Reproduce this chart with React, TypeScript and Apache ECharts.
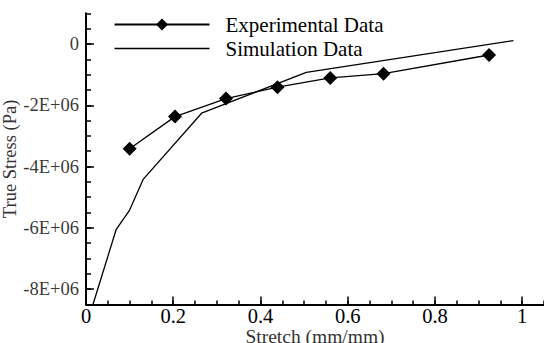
import React, { useEffect, useRef } from "react";
import * as echarts from "echarts";

const expStretch = [0.1, 0.204, 0.321, 0.439, 0.56, 0.682, 0.924];
const expStress = [-3.42e6, -2.37e6, -1.78e6, -1.41e6, -1.11e6, -0.97e6, -0.36e6];
const simStretch = [0.016, 0.069, 0.1, 0.131, 0.265, 0.505, 0.98];
const simStress = [-8.5e6, -6.06e6, -5.42e6, -4.42e6, -2.26e6, -0.93e6, 0.11e6];
const xTickValues = [0, 0.2, 0.4, 0.6, 0.8, 1];
const yTickValues = [0, -2e6, -4e6, -6e6, -8e6];
const seriesNames = ["Experimental Data", "Simulation Data"];

const FONT = "Times New Roman";

function isMajor(v: number, list: number[]) {
  return list.some((t) => Math.abs(t - v) < 1e-6 * Math.max(1, Math.abs(t)));
}

function yText(v: number) {
  if (Math.abs(v) < 1) return "0";
  return `${Math.round(v / 1e6)}E+06`;
}

function xFmt(v: number) {
  if (!isMajor(v, xTickValues)) return "";
  return String(Math.round(v * 10) / 10);
}

export default function App() {
  const ref = useRef<HTMLDivElement>(null);
  useEffect(() => {
    if (!ref.current) return;
    const chart = echarts.init(ref.current, null, { renderer: "svg" });
    const xMin = 0, xMax = 1.05, yMin = -8.5e6, yMax = 1e6;
    chart.setOption({
      animation: false,
      backgroundColor: "#ffffff",
      textStyle: { fontFamily: FONT },
      grid: { left: 86, right: 0, top: 13.3, bottom: 38.5, containLabel: false, outerBoundsMode: "none" },
      legend: {
        orient: "vertical",
        left: 108.5,
        top: 9,
        itemWidth: 95,
        itemHeight: 15,
        itemGap: 3,
        data: [
          { name: seriesNames[0] },
          { name: seriesNames[1], icon: "path://M0,0L95,0L95,1.3L0,1.3Z" },
        ],
        textStyle: { fontFamily: FONT, fontSize: 21, color: "#000", padding: [0, 0, 0, 11] },
      },
      xAxis: [
        {
          type: "value", min: xMin, max: xMax, interval: 0.05,
          axisLine: { show: true, onZero: false, lineStyle: { color: "#000", width: 2 } },
          axisTick: { show: true, inside: true, length: 4, lineStyle: { color: "#000", width: 1.5 } },
          axisLabel: {
            show: true, margin: 3.5, lineHeight: 16, hideOverlap: false,
            showMinLabel: true, showMaxLabel: true,
            fontFamily: FONT, fontSize: 20.5, color: "#000",
            formatter: xFmt,
          },
          splitLine: { show: false },
          name: "Stretch (mm/mm)",
          nameLocation: "middle",
          nameGap: 22.5,
          nameMoveOverlap: false,
          nameTextStyle: { fontFamily: FONT, fontSize: 19.5, lineHeight: 18, color: "#333" },
        },
        {
          type: "value", min: xMin, max: xMax, position: "bottom",
          axisLine: { show: false, onZero: false },
          axisTick: { show: true, inside: true, length: 8, customValues: xTickValues, lineStyle: { color: "#000", width: 1.5 } },
          axisLabel: { show: false },
          splitLine: { show: false },
        },
      ],
      yAxis: [
        {
          type: "value", min: yMin, max: yMax, interval: 0.5e6,
          axisLine: { show: true, onZero: false, lineStyle: { color: "#000", width: 2 } },
          axisTick: { show: true, inside: true, length: 5, lineStyle: { color: "#000", width: 1.5 } },
          axisLabel: { show: false },
          splitLine: { show: false },
          name: "True Stress (Pa)",
          nameLocation: "middle",
          nameGap: 67,
          nameMoveOverlap: false,
          nameTextStyle: { fontFamily: FONT, fontSize: 18.5, color: "#333" },
        },
        {
          type: "value", min: yMin, max: yMax, position: "left",
          axisLine: { show: false, onZero: false },
          axisTick: { show: true, inside: true, length: 8, customValues: yTickValues, lineStyle: { color: "#000", width: 1.5 } },
          axisLabel: { show: false },
          splitLine: { show: false },
        },
      ],
      series: [
        {
          name: seriesNames[0],
          type: "line",
          xAxisIndex: 0, yAxisIndex: 0,
          data: expStretch.map((x, i) => [x, expStress[i]]),
          symbol: "diamond",
          symbolSize: 14,
          itemStyle: { color: "#000" },
          lineStyle: { color: "#000", width: 1.3 },
          z: 3,
        },
        {
          name: seriesNames[1],
          type: "line",
          xAxisIndex: 0, yAxisIndex: 0,
          data: simStretch.map((x, i) => [x, simStress[i]]),
          symbol: "none",
          showSymbol: false,
          itemStyle: { color: "#000" },
          lineStyle: { color: "#000", width: 1.3 },
          z: 2,
        },
        {
          name: "yTickLabels",
          type: "scatter",
          xAxisIndex: 0, yAxisIndex: 0,
          data: yTickValues.map((v) => [0, v]),
          symbol: "circle",
          symbolSize: 0.01,
          silent: true,
          clip: false,
          itemStyle: { color: "rgba(0,0,0,0)" },
          label: {
            show: true,
            position: "left",
            distance: 7,
            fontFamily: FONT,
            fontSize: 18.5,
            color: "#000",
            formatter: (p: any) => yText(p.value[1]),
          },
          z: 1,
        },
      ],
    });
    return () => chart.dispose();
  }, []);
  return <div ref={ref} style={{ position: "fixed", left: 0, top: 0, width: 544, height: 343 }} />;
}
